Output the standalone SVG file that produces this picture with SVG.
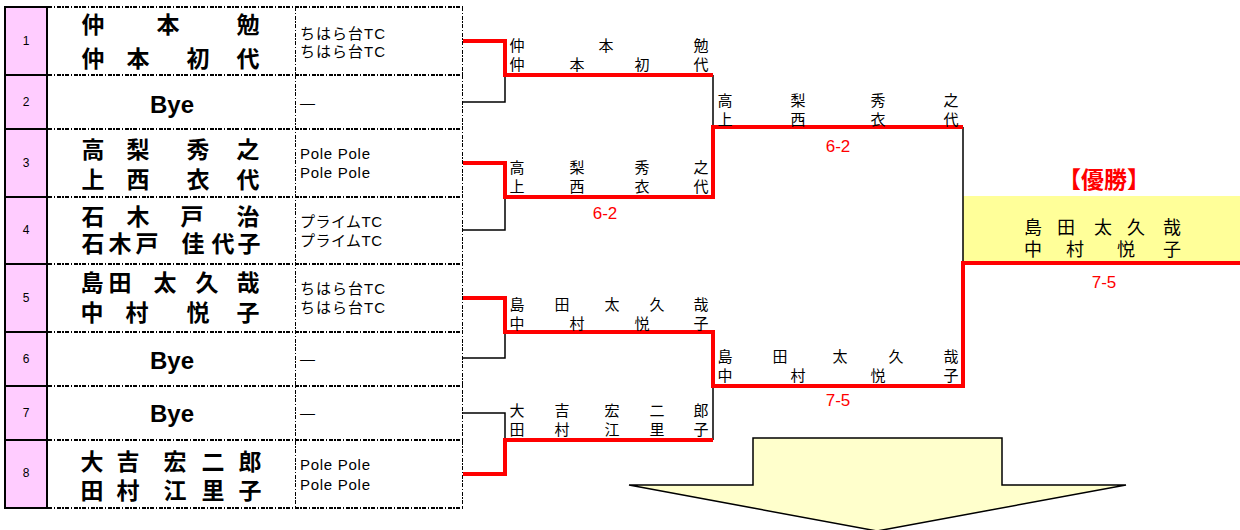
<svg xmlns="http://www.w3.org/2000/svg" width="1240" height="530" viewBox="0 0 1240 530">
<style>
.num{fill:#FFCCFF;stroke:#000;stroke-width:2}
.dd{stroke:#000;stroke-width:1.4;stroke-dasharray:4,1.5,1.5,1.5;fill:none;shape-rendering:crispEdges}
.nm{font-family:"Noto Sans CJK JP","Liberation Sans",sans-serif;font-weight:bold;font-size:23px;text-anchor:middle;dominant-baseline:central;fill:#000}
.bye{font-family:"Liberation Sans",Arial,sans-serif;font-weight:bold;font-size:24px;text-anchor:middle;dominant-baseline:central;fill:#000}
.no{font-family:"Liberation Sans",Arial,sans-serif;font-size:12px;text-anchor:middle;dominant-baseline:central;fill:#000}
.club{font-family:"Liberation Sans","Noto Sans CJK JP",sans-serif;font-size:15px;dominant-baseline:central;fill:#000}
.bn{font-family:"Noto Sans CJK JP",sans-serif;font-size:15px;text-anchor:middle;dominant-baseline:central;fill:#000}
.wn{font-family:"Noto Sans CJK JP",sans-serif;font-size:18px;text-anchor:middle;dominant-baseline:central;fill:#000}
.sc{font-family:"Liberation Sans",Arial,sans-serif;font-size:17px;text-anchor:middle;dominant-baseline:central;fill:#FF0000}
.blk{stroke:#000;stroke-width:1.5;fill:none}
.red{stroke:#FF0000;stroke-width:4;fill:none;stroke-linejoin:miter}
</style>

<g id="table">
  <g id="number-column">
    <rect class="num" x="5" y="7" width="42" height="68"/>
    <rect class="num" x="5" y="75" width="42" height="54"/>
    <rect class="num" x="5" y="129" width="42" height="68"/>
    <rect class="num" x="5" y="197" width="42" height="67"/>
    <rect class="num" x="5" y="264" width="42" height="68"/>
    <rect class="num" x="5" y="332" width="42" height="54"/>
    <rect class="num" x="5" y="386" width="42" height="54"/>
    <rect class="num" x="5" y="440" width="42" height="68"/>
  </g>
  <g id="grid-lines">
    <path class="dd" d="M48,7H463 M48,75H463 M48,129H463 M48,197H463 M48,264H463 M48,332H463 M48,386H463 M48,440H463 M48,508H463 M295.5,7V508 M462.5,7V508"/>
  </g>
</g>

<g id="entry1">
  <text class="no" x="26" y="41">1</text>
  <text class="nm" x="93 168 248" y="23">仲本勉</text>
  <text class="nm" x="93 138 198 248" y="57">仲本初代</text>
  <text class="club" x="300" y="33" textLength="85">ちはら台TC</text>
  <text class="club" x="300" y="51" textLength="85">ちはら台TC</text>
</g>
<g id="entry2">
  <text class="no" x="26" y="102">2</text>
  <text class="bye" x="172" y="104">Bye</text>
  <text class="club" x="300" y="102">—</text>
</g>
<g id="entry3">
  <text class="no" x="26" y="163">3</text>
  <text class="nm" x="93 138 198 248" y="148">高梨秀之</text>
  <text class="nm" x="93 138 198 248" y="178">上西衣代</text>
  <text class="club" x="300" y="153" textLength="70">Pole Pole</text>
  <text class="club" x="300" y="172" textLength="70">Pole Pole</text>
</g>
<g id="entry4">
  <text class="no" x="26" y="230">4</text>
  <text class="nm" x="93 138 192 248" y="215">石木戸治</text>
  <text class="nm" x="93 120 147 193 223 249" y="242">石木戸佳代子</text>
  <text class="club" x="300" y="221" textLength="82">プライムTC</text>
  <text class="club" x="300" y="240" textLength="82">プライムTC</text>
</g>
<g id="entry5">
  <text class="no" x="26" y="298">5</text>
  <text class="nm" x="92 120 165 207 248" y="281">島田太久哉</text>
  <text class="nm" x="92 137 198 248" y="311">中村悦子</text>
  <text class="club" x="300" y="288" textLength="85">ちはら台TC</text>
  <text class="club" x="300" y="307" textLength="85">ちはら台TC</text>
</g>
<g id="entry6">
  <text class="no" x="26" y="359">6</text>
  <text class="bye" x="172" y="360">Bye</text>
  <text class="club" x="300" y="358">—</text>
</g>
<g id="entry7">
  <text class="no" x="26" y="413">7</text>
  <text class="bye" x="172" y="413">Bye</text>
  <text class="club" x="300" y="412">—</text>
</g>
<g id="entry8">
  <text class="no" x="26" y="473">8</text>
  <text class="nm" x="92 128 175 213 250" y="460">大吉宏二郎</text>
  <text class="nm" x="92 128 175 213 250" y="489">田村江里子</text>
  <text class="club" x="300" y="464" textLength="70">Pole Pole</text>
  <text class="club" x="300" y="484" textLength="70">Pole Pole</text>
</g>

<g id="winner-box">
  <rect x="963" y="196" width="277" height="67" fill="#FFFF99"/>
  <text x="1104" y="178" font-family="Noto Sans CJK JP, sans-serif" font-weight="bold" font-size="23" fill="#FF0000" text-anchor="middle" dominant-baseline="central">【優勝】</text>
  <text class="wn" x="1033 1066 1103 1136 1172" y="226">島田太久哉</text>
  <text class="wn" x="1033 1075 1126 1172" y="248">中村悦子</text>
</g>

<g id="arrow">
  <polygon points="753,438 1002,438 1002,485 1126,485 877,531 629,485 753,485" fill="#FFFFCC" stroke="#000" stroke-width="1.5"/>
</g>

<g id="connectors">
  <path class="blk" d="M463,102H505V75 M463,230H505V197 M463,358H505V332 M463,413H505V440 M713,75V127 M713,386V440 M963,127V263"/>
  <path class="red" d="M463,41H505V75H713"/>
  <path class="red" d="M463,163H505V197H713V127H963"/>
  <path class="red" d="M463,298H505V332H713V386H963V263H1240"/>
  <path class="red" d="M463,474H505V440H713"/>
</g>

<g id="round1-winners">
  <text class="bn" x="517 606 701" y="44">仲本勉</text>
  <text class="bn" x="517 577 642 701" y="63">仲本初代</text>
  <text class="bn" x="517 577 642 701" y="166">高梨秀之</text>
  <text class="bn" x="517 577 642 701" y="185">上西衣代</text>
  <text class="bn" x="517 562 612 657 701" y="303">島田太久哉</text>
  <text class="bn" x="517 577 642 701" y="322">中村悦子</text>
  <text class="bn" x="517 562 612 657 701" y="409">大吉宏二郎</text>
  <text class="bn" x="517 562 612 657 701" y="428">田村江里子</text>
</g>
<g id="round2-winners">
  <text class="bn" x="725 798 878 951" y="99">高梨秀之</text>
  <text class="bn" x="725 798 878 951" y="118">上西衣代</text>
  <text class="bn" x="725 780 840 896 951" y="355">島田太久哉</text>
  <text class="bn" x="725 798 878 951" y="374">中村悦子</text>
</g>
<g id="scores">
  <text class="sc" x="605" y="213">6-2</text>
  <text class="sc" x="838" y="146">6-2</text>
  <text class="sc" x="838" y="400">7-5</text>
  <text class="sc" x="1104" y="282">7-5</text>
</g>
</svg>
